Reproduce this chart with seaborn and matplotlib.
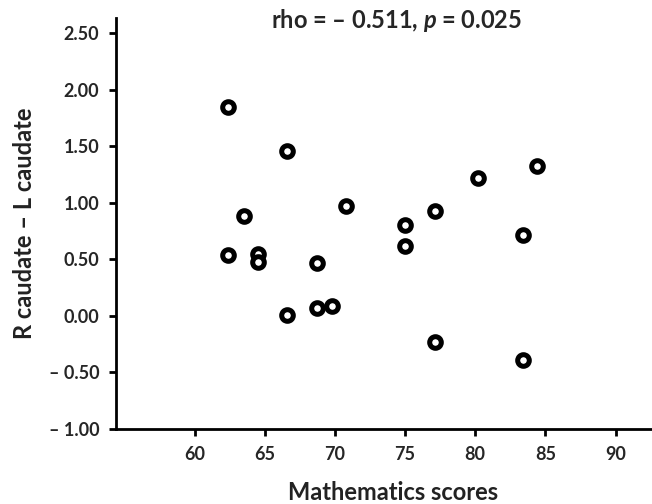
import matplotlib
matplotlib.use('Agg')
import matplotlib.pyplot as plt
import seaborn as sns
import pandas as pd

# values
math_scores = [62.4, 66.6, 70.8, 63.5, 62.4, 64.5, 64.5, 68.7, 66.6, 68.7, 69.8,
               84.4, 80.2, 77.1, 75.0, 75.0, 83.4, 77.1, 83.4]
caudate_diff = [1.85, 1.46, 0.97, 0.88, 0.54, 0.55, 0.48, 0.47, 0.01, 0.07, 0.09,
                1.33, 1.22, 0.93, 0.80, 0.62, 0.72, -0.23, -0.39]
x_ticks = [60, 65, 70, 75, 80, 85, 90]
y_ticks = [-1.0, -0.5, 0.0, 0.5, 1.0, 1.5, 2.0, 2.5]
y_tick_labels = ["\u2013 1.00", "\u2013 0.50", "0.00", "0.50", "1.00", "1.50", "2.00", "2.50"]
title = "rho = \u2013 0.511, $\\mathit{p}$ = 0.025"

df = pd.DataFrame({"math": math_scores, "diff": caudate_diff})

sns.set_style("ticks")
plt.rcParams['font.family'] = ['Lato', 'DejaVu Sans']
plt.rcParams['mathtext.fontset'] = 'custom'
plt.rcParams['mathtext.rm'] = 'Lato:bold'
plt.rcParams['mathtext.it'] = 'Lato:italic:bold'

fig = plt.figure(figsize=(6.52, 5.04), dpi=100)
ax = fig.add_axes([116/652, 1 - 429/504, 1 - 116/652, (429 - 18)/504])

sns.scatterplot(data=df, x="math", y="diff", ax=ax, marker='o', s=70,
                facecolor='white', edgecolor='black', linewidth=3.6, zorder=3)

ax.set_xlim(54.4, 92.6)
ax.set_ylim(-1.0, 2.635)
ax.set_xticks(x_ticks)
ax.set_xticklabels([str(t) for t in x_ticks])
ax.set_yticks(y_ticks)
ax.set_yticklabels(y_tick_labels)
for lab in ax.get_xticklabels() + ax.get_yticklabels():
    lab.set_fontweight('bold')
    lab.set_fontsize(13)
ax.tick_params(direction='out', length=5, width=2, color='black', pad=7)
ax.tick_params(axis='x', pad=7)

sns.despine(ax=ax)
for s in ['left', 'bottom']:
    ax.spines[s].set_linewidth(2)
    ax.spines[s].set_color('black')

ax.set_xlabel("")
ax.set_ylabel("")
fig.text(393/652, 1 - 492/504, "Mathematics scores", ha='center', va='center',
         fontsize=17, fontweight='bold', color='#222222')
fig.text(25/652, 1 - 223/504, "R caudate \u2013 L caudate", ha='center', va='center',
         rotation=90, fontsize=17, fontweight='bold', color='#222222')
fig.text(397/652, 1 - 20/504, title, ha='center', va='center',
         fontsize=17, fontweight='bold')

fig.savefig('out.png', dpi=100)
